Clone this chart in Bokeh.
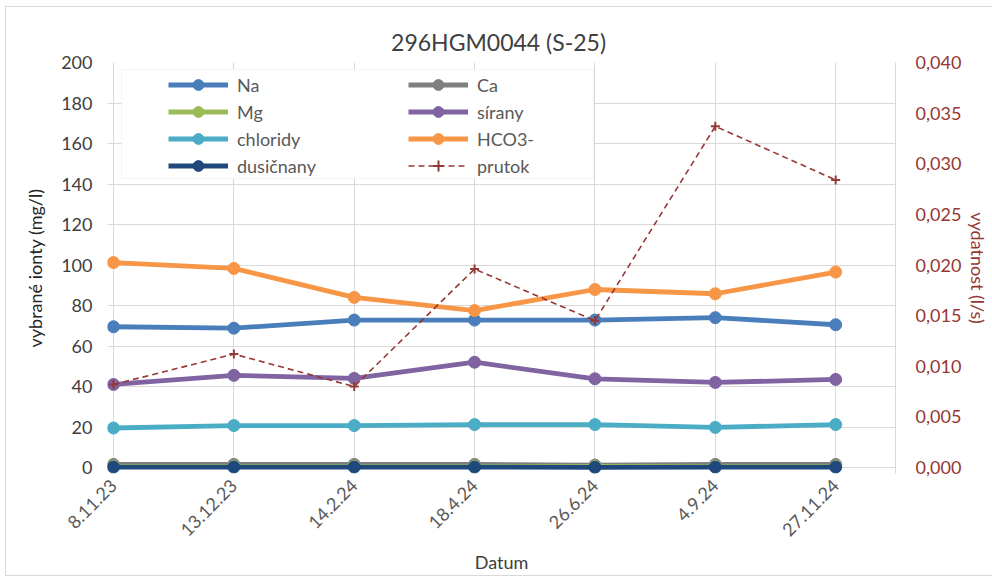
from math import pi

from bokeh.plotting import figure
from bokeh.models import (Range1d, LinearAxis, FixedTicker, CustomJSTickFormatter,
                          Legend, LegendItem, BoxAnnotation)
from bokeh.embed import file_html
from bokeh.resources import INLINE

# Sampling dates (category axis)
dates = ["8.11.23", "13.12.23", "14.2.24", "18.4.24", "26.6.24", "4.9.24", "27.11.24"]

# Selected ions, mg/l
na = [69.5, 68.8, 72.8, 72.8, 72.8, 74.0, 70.5]
ca = [1.5, 1.5, 1.5, 1.5, 1.2, 1.5, 1.5]
mg = [0.6, 0.6, 0.6, 0.6, 0.5, 0.6, 0.6]
sirany = [41.0, 45.5, 44.0, 52.0, 43.8, 42.0, 43.5]
chloridy = [19.5, 20.7, 20.7, 21.2, 21.2, 19.8, 21.2]
hco3 = [101.2, 98.3, 84.0, 77.5, 87.9, 85.8, 96.5]
dusicnany = [0.2, 0.2, 0.2, 0.2, 0.1, 0.2, 0.2]

# Spring yield, l/s (secondary axis)
prutok = [0.0082, 0.0112, 0.0080, 0.0196, 0.0145, 0.0337, 0.0284]

left_ticks = [0, 20, 40, 60, 80, 100, 120, 140, 160, 180, 200]
right_ticks = [0.0, 0.005, 0.010, 0.015, 0.020, 0.025, 0.030, 0.035, 0.040]

FONT = "Lato"
GRID = "#d9d9d9"
TEXT = "#595959"
DARK_RED = "#953735"

x = list(range(len(dates)))

p = figure(width=992, height=577, output_backend="svg", toolbar_location=None,
           x_range=Range1d(-0.0497, 6.497), y_range=Range1d(-2.96, 200),
           min_border_left=107, min_border_right=95, min_border_top=62,
           min_border_bottom=104, background_fill_color="white",
           border_fill_color="white", outline_line_color=None)
p.extra_y_ranges = {"flow": Range1d(-0.000592, 0.040)}

# Thin frame around the whole chart (no right edge, it runs past the page)
p.stylesheets = [""":host::after {
  content: ""; position: absolute; left: 5px; top: 6px;
  width: 987px; height: 570px; box-sizing: border-box;
  border: 1px solid #d9d9d9; border-right: none;
  pointer-events: none; z-index: 10;
}"""]

# Title
p.title.text = "296HGM0044  (S-25)"
p.title.align = "center"
p.title.text_font = FONT
p.title.text_font_size = "23px"
p.title.text_font_style = "normal"
p.title.text_color = "#404040"
p.title.standoff = 13

# Bottom axis: dates
xa = p.xaxis[0]
xa.ticker = FixedTicker(ticks=x)
xa.major_label_overrides = {i: d for i, d in enumerate(dates)}
xa.major_label_orientation = pi / 4
xa.axis_line_color = None
xa.major_tick_line_color = None
xa.minor_tick_line_color = None
xa.major_label_text_font = FONT
xa.major_label_text_font_size = "18px"
xa.major_label_text_color = TEXT
xa.major_label_standoff = 3
xa.axis_label = "Datum"
xa.axis_label_text_font = FONT
xa.axis_label_text_font_size = "18px"
xa.axis_label_text_font_style = "normal"
xa.axis_label_text_color = "#404040"
xa.axis_label_standoff = 6

# Left axis: ions
ya = p.yaxis[0]
ya.ticker = FixedTicker(ticks=left_ticks)
ya.axis_line_color = None
ya.major_tick_line_color = None
ya.minor_tick_line_color = None
ya.major_label_text_font = FONT
ya.major_label_text_font_size = "18px"
ya.major_label_text_color = "#404040"
ya.major_label_standoff = 9
ya.axis_label = "vybrané ionty (mg/l)"
ya.axis_label_text_font = FONT
ya.axis_label_text_font_size = "18px"
ya.axis_label_text_font_style = "normal"
ya.axis_label_text_color = "#262626"
ya.axis_label_standoff = 12

# Right axis: yield
ra = LinearAxis(y_range_name="flow", ticker=FixedTicker(ticks=right_ticks),
                formatter=CustomJSTickFormatter(code="return tick.toFixed(3).replace('.', ',')"))
ra.axis_line_color = GRID
ra.major_tick_line_color = None
ra.minor_tick_line_color = None
ra.major_label_text_font = FONT
ra.major_label_text_font_size = "18px"
ra.major_label_text_color = DARK_RED
ra.major_label_standoff = 14
ra.axis_label = "vydatnost (l/s)"
ra.axis_label_text_font = FONT
ra.axis_label_text_font_size = "18px"
ra.axis_label_text_font_style = "normal"
ra.axis_label_text_color = DARK_RED
ra.axis_label_standoff = 3
p.add_layout(ra, "right")

p.xgrid.grid_line_color = GRID
p.ygrid.grid_line_color = GRID

# Ion series
series = [
    ("Na", na, "#4a7ebb"),
    ("Ca", ca, "#7f7f7f"),
    ("Mg", mg, "#9bbb59"),
    ("sírany", sirany, "#8064a2"),
    ("chloridy", chloridy, "#4bacc6"),
    ("HCO3-", hco3, "#f79646"),
    ("dusičnany", dusicnany, "#1f497d"),
]

items = {}
for name, vals, color in series:
    ln = p.line(x, vals, line_width=4.8, line_color=color)
    pt = p.scatter(x, vals, size=12, fill_color=color, line_color=color)
    items[name] = LegendItem(label=name, renderers=[ln, pt])

# Yield series on the secondary axis
fl = p.line(x, prutok, y_range_name="flow", line_width=1.6, line_color=DARK_RED,
            line_dash="6 4")
fp = p.scatter(x, prutok, y_range_name="flow", marker="cross", size=9,
               line_width=2, line_color=DARK_RED)
items["prutok"] = LegendItem(label="prutok", renderers=[fl, fp])

# Legend frame
p.add_layout(BoxAnnotation(left=121, right=593, top=69, bottom=178,
                           left_units="canvas", right_units="canvas",
                           top_units="canvas", bottom_units="canvas",
                           fill_color="white", fill_alpha=1,
                           line_color=GRID, line_width=1))


def make_legend(names, loc):
    lg = Legend(items=[items[n] for n in names], location=loc,
                padding=0, margin=0, spacing=0, glyph_width=60, glyph_height=27,
                label_height=20, label_standoff=9, border_line_color=None,
                background_fill_alpha=0, label_text_font=FONT,
                label_text_font_size="18px", label_text_color=TEXT)
    p.add_layout(lg, "center")


make_legend(["Na", "Mg", "chloridy", "dusičnany"], (61, 294))
make_legend(["Ca", "sírany", "HCO3-", "prutok"], (301, 294))

open("out.html", "w").write(file_html(p, INLINE))
